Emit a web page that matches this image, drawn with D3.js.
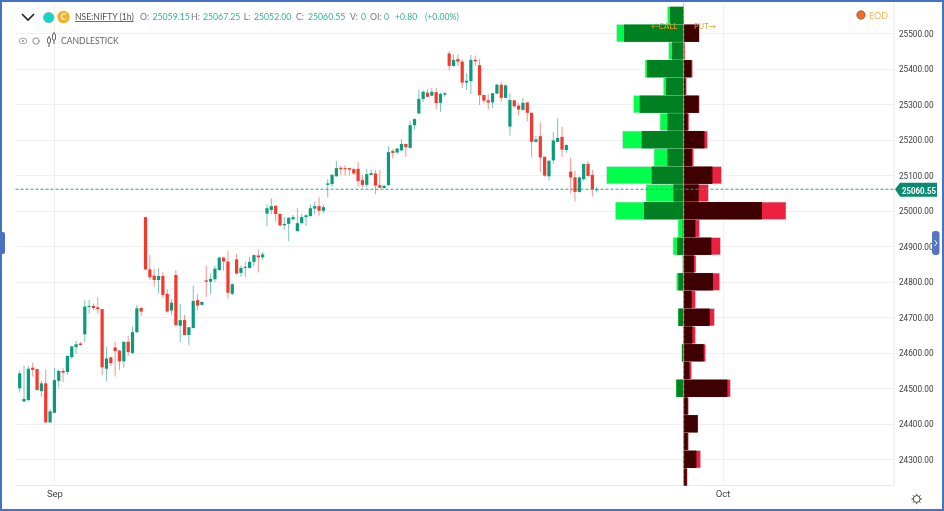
<!DOCTYPE html>
<html><head><meta charset="utf-8">
<script src="https://cdn.jsdelivr.net/npm/d3@7/dist/d3.min.js"></script>
<style>
html,body{margin:0;padding:0;background:#fff;overflow:hidden}
svg{display:block;filter:blur(0.3px)}
</style></head><body>
<div id="chart"></div>
<script>
// Candles [hourly bars], prices
const opens=[24500,24463,24467,24558,24554,24492,24514,24404,24431,24521,24549,24546,24588,24616,24626,24652,24729,24732,24728,24723,24555,24587,24615,24606,24576,24631,24599,24658,24726,24982,24835,24817,24805,24816,24766,24719,24819,24676,24692,24650,24670,24748,24735,24804,24800,24807,24833,24868,24857,24766,24863,24825,24839,24839,24856,24874,24869,24992,25002,25014,24991,24959,24963,24976,24943,24965,24982,24985,25006,25013,25000,25073,25075,25097,25121,25120,25120,25117,25118,25086,25073,25101,25105,25072,25064,25072,25168,25164,25170,25188,25177,25241,25274,25315,25332,25324,25334,25304,25327,25443,25408,25427,25420,25361,25365,25425,25410,25326,25311,25305,25330,25355,25318,25237,25311,25296,25284,25305,25276,25194,25210,25152,25097,25142,25194,25208,25171,25110,25094,25053,25089,25132,25101,25059.15];
const highs=[24550,24564,24563,24572,24555,24521,24552,24442,24558,24552,24556,24593,24620,24634,24630,24748,24749,24739,24756,24724,24617,24589,24631,24608,24632,24648,24674,24735,24728,24984,24875,24836,24838,24827,24779,24751,24833,24737,24706,24673,24789,24765,24745,24845,24824,24845,24871,24871,24886,24796,24878,24846,24857,24870,24877,24891,24884,25018,25035,25015,24993,24983,24982,24988,25007,24991,24990,25018,25026,25038,25016,25089,25104,25140,25126,25128,25121,25121,25138,25101,25118,25115,25115,25115,25073,25182,25174,25177,25202,25189,25253,25260,25341,25340,25342,25346,25346,25333,25334,25450,25441,25441,25426,25387,25439,25437,25427,25326,25328,25331,25357,25362,25356,25331,25311,25303,25317,25305,25276,25211,25249,25152,25141,25221,25260,25236,25187,25149,25112,25096,25132,25140,25115,25067.25];
const lows=[24488,24461,24463,24533,24494,24476,24403,24403,24430,24502,24518,24538,24583,24597,24620,24630,24711,24720,24711,24537,24521,24563,24533,24552,24557,24591,24598,24656,24704,24833,24805,24786,24768,24756,24713,24706,24674,24630,24649,24622,24669,24720,24734,24758,24765,24799,24831,24830,24752,24762,24821,24814,24814,24837,24844,24826,24861,24957,24990,24969,24957,24946,24914,24972,24941,24964,24957,24983,24991,24986,24993,25038,25066,25096,25101,25099,25099,25101,25068,25065,25066,25099,25047,25063,25063,25070,25147,25160,25169,25152,25175,25229,25273,25306,25320,25323,25286,25279,25321,25396,25405,25408,25345,25340,25329,25408,25298,25302,25286,25289,25328,25307,25317,25211,25290,25268,25282,25251,25150,25192,25108,25096,25085,25132,25193,25151,25163,25049,25026,25051,25084,25096,25040,25052];
const closes=[24542,24470,24555,24552,24495,24514,24404,24435,24523,24549,24544,24591,24618,24624,24622,24730,24732,24726,24723,24559,24584,24571,24605,24576,24631,24602,24658,24725,24716,24835,24813,24805,24816,24763,24716,24741,24678,24692,24650,24672,24746,24733,24743,24800,24808,24837,24868,24857,24769,24793,24823,24839,24842,24856,24875,24869,24877,25007,25013,24991,24959,24963,24980,24982,24965,24982,24987,25007,25013,25000,25010,25077,25101,25120,25117,25117,25116,25105,25084,25073,25103,25106,25071,25065,25070,25165,25163,25175,25188,25179,25241,25258,25315,25335,25321,25335,25303,25329,25331,25408,25425,25420,25361,25366,25425,25421,25326,25310,25305,25331,25355,25318,25353,25312,25294,25285,25304,25276,25194,25201,25150,25099,25141,25198,25205,25172,25185,25094,25053,25094,25132,25098,25060,25060.55];
// Option chain profile, by strike (open interest in arbitrary units)
const strikes=[25550,25500,25450,25400,25350,25300,25250,25200,25150,25100,25050,25000,24950,24900,24850,24800,24750,24700,24650,24600,24550,24500,24450,24400,24350,24300,24250];
const callOI=[137,597,117,367,177,440,163,420,163,320,103,397,10,67,3,53,0,53,3,17,3,73,0,3,0,3,0];
const callChange=[163,670,150,387,203,500,237,610,297,770,377,683,57,107,13,73,3,57,5,20,3,77,2,5,2,7,0];
const putOI=[0,153,3,77,17,150,40,207,83,287,150,783,117,277,103,293,80,260,87,200,57,437,40,140,40,127,30];
const putChange=[0,157,13,90,30,157,53,237,100,377,247,1023,157,367,123,360,117,307,117,220,77,467,50,143,50,170,37];
const priceTicks=[25500,25400,25300,25200,25100,25000,24900,24800,24700,24600,24500,24400,24300];
const timeTicks=[{bar:8,label:"Sep"},{bar:162,label:"Oct"}];
const lastPrice=25060.55;
const quote=[["O:","25059.15",140,152.5],["H:","25067.25",191,203],["L:","25052.00",243.7,254],["C:","25060.55",296,308]];
const quoteTail=[["V:",350,"#777"],["0",361,"#2fb597"],["OI:",370,"#777"],["0",384,"#2fb597"],["+0.80",395,"#2fb597"],["(+0.00%)",425,"#2fb597"]];

const W=944,H=511;
const svg=d3.select("#chart").append("svg").attr("width",W).attr("height",H).attr("viewBox",`0 0 ${W} ${H}`).attr("font-family","Lato");
const y=d3.scaleLinear().domain([25500,24300]).range([33.2,459.3]);
const x=d3.scaleLinear().domain([0,133]).range([19.7,596.7]);
const oi=d3.scaleLinear().domain([0,1000]).range([0,100]);
const left=15.5,right=894,bottom=485.5,mid=683.7;
const GREEN="#089b7c",RED="#f5372c";

// grid
const grid=svg.append("g");
grid.selectAll("line.h").data(priceTicks).join("line").attr("x1",left).attr("x2",right)
 .attr("y1",d=>Math.round(y(d))+.5).attr("y2",d=>Math.round(y(d))+.5).attr("stroke","#eff0f4").attr("stroke-width",1);
grid.selectAll("line.v").data(timeTicks).join("line").attr("x1",d=>Math.round(x(d.bar))+.5).attr("x2",d=>Math.round(x(d.bar))+.5)
 .attr("y1",3).attr("y2",bottom).attr("stroke","#eff0f4");
svg.append("line").attr("x1",right).attr("x2",right).attr("y1",3).attr("y2",bottom).attr("stroke","#e6e8ee");
svg.append("line").attr("x1",left).attr("x2",right).attr("y1",bottom).attr("y2",bottom).attr("stroke","#e6e8ee");

// axes text via d3 axes
const yAxis=d3.axisRight(y).tickValues(priceTicks).tickSize(0).tickPadding(0).tickFormat(d3.format(".2f"));
const ya=svg.append("g").attr("transform",`translate(899,0)`).call(yAxis);
ya.select(".domain").remove();
ya.selectAll("text").attr("fill","#3a3a3a").attr("font-size",9.4).style("font-family","Roboto").attr("dy","0.33em")
 .attr("textLength",34.5).attr("lengthAdjust","spacingAndGlyphs");
const xAxis=d3.axisBottom(x).tickValues(timeTicks.map(d=>d.bar)).tickSize(0).tickPadding(0).tickFormat(b=>timeTicks.find(t=>t.bar===b).label);
const xa=svg.append("g").attr("transform",`translate(0,${bottom+4.5})`).call(xAxis);
xa.select(".domain").remove();
xa.selectAll("text").attr("fill","#444").attr("font-size",9.5).style("font-family","Roboto");

// candles
const bars=d3.range(opens.length).map(i=>({i,o:opens[i],h:highs[i],l:lows[i],c:closes[i]}));
const cg=svg.append("g");
const col=d=>d.c>=d.o?GREEN:RED;
cg.selectAll("line").data(bars).join("line")
 .attr("x1",d=>x(d.i)).attr("x2",d=>x(d.i)).attr("y1",d=>y(d.h)).attr("y2",d=>y(d.l))
 .attr("stroke",col).attr("stroke-opacity",.55).attr("stroke-width",1);
cg.selectAll("rect").data(bars).join("rect")
 .attr("x",d=>x(d.i)-1.6).attr("width",3.2)
 .attr("y",d=>y(Math.max(d.o,d.c))).attr("height",d=>Math.max(1,Math.abs(y(d.o)-y(d.c))))
 .attr("fill",col);

// OI profile
const bandH=Math.abs(y(25500)-y(25450));
const rows=strikes.map((s,i)=>({s,c:callOI[i],cc:callChange[i],p:putOI[i],pc:putChange[i]}));
const pg=svg.append("g");
function band(sel,fn,sign,fill,withStroke){
 sel.selectAll(null).data(rows.filter(d=>fn(d)>0)).join("rect")
  .attr("x",d=>sign<0?mid-oi(fn(d)):mid).attr("width",d=>oi(fn(d)))
  .attr("y",d=>Math.max(y(d.s)-bandH/2,0)+.2).attr("height",d=>Math.min(bandH-.4,bottom+1.5-(y(d.s)-bandH/2)))
  .attr("fill",fill).attr("stroke",withStroke?"#d9d9d9":"none").attr("stroke-width",.6);
}
band(pg,d=>d.cc,-1,"#00ff4d",true);
band(pg,d=>d.c,-1,"#008020",false);
band(pg,d=>d.pc,1,"#ee2040",true);
band(pg,d=>d.p,1,"#3e0000",false);
svg.append("line").attr("x1",mid).attr("x2",mid).attr("y1",3).attr("y2",bottom)
 .attr("stroke","#f0a030").attr("stroke-width",.8).attr("stroke-dasharray","3,2");
svg.append("text").attr("x",651).attr("y",29).attr("font-size",7.8).attr("fill","#f0a020").text("←CALL");
svg.append("text").attr("x",694).attr("y",29).attr("font-size",7.6).attr("fill","#f0a020").text("PUT→");

// last price line
const ly=y(lastPrice);
svg.append("line").attr("x1",left).attr("x2",right).attr("y1",ly).attr("y2",ly)
 .attr("stroke","#1fa58b").attr("stroke-dasharray","3,2").attr("stroke-width",1);
svg.append("path").attr("d",`M895,${ly} L900,${ly-6.5} H937 V${ly+7.5} H900 Z`).attr("fill","#0b8a72");
svg.append("text").attr("x",902).attr("y",ly+4.3).attr("font-size",9.6).attr("font-weight",700).attr("fill","#fff").style("font-family","Roboto")
 .attr("textLength",34).attr("lengthAdjust","spacingAndGlyphs").text(d3.format(".2f")(lastPrice));

// header
const FS=8.7;
const hdr=svg.append("g");
hdr.append("path").attr("d","M22,14 L28,20 L34,14").attr("fill","none").attr("stroke","#222").attr("stroke-width",1.6);
hdr.append("circle").attr("cx",48.7).attr("cy",17.5).attr("r",5.3).attr("fill","#10d8c8").attr("stroke","#999").attr("stroke-width",.5);
hdr.append("circle").attr("cx",63.5).attr("cy",17).attr("r",6.2).attr("fill","#f4b02a");
hdr.append("text").attr("x",63.5).attr("y",20).attr("font-size",8.5).attr("font-weight",700).attr("fill","#fff").attr("text-anchor","middle").text("C");
hdr.append("text").attr("x",75).attr("y",20).attr("font-size",8.6).attr("fill","#555").attr("text-decoration","underline").text("NSE:NIFTY (1h)");
quote.forEach(q=>{
 hdr.append("text").attr("x",q[2]).attr("y",20).attr("font-size",FS).attr("fill","#777").text(q[0]);
 hdr.append("text").attr("x",q[3]).attr("y",20).attr("font-size",FS).attr("fill","#2fb597").text(q[1]);
});
quoteTail.forEach(q=>{
 hdr.append("text").attr("x",q[1]).attr("y",20).attr("font-size",FS).attr("fill",q[2]).text(q[0]);
});
// sub header
hdr.append("ellipse").attr("cx",23).attr("cy",41).attr("rx",3.8).attr("ry",2.8).attr("fill","none").attr("stroke","#999").attr("stroke-width",.9);
hdr.append("circle").attr("cx",23).attr("cy",41).attr("r",1.1).attr("fill","#999");
hdr.append("circle").attr("cx",36).attr("cy",41).attr("r",3).attr("fill","none").attr("stroke","#999").attr("stroke-width",1.6).attr("stroke-dasharray","1.3,.6");
[[49,36,47,38,43],[54,32,44,34,40]].forEach(c=>{
 hdr.append("line").attr("x1",c[0]).attr("x2",c[0]).attr("y1",c[1]).attr("y2",c[2]).attr("stroke","#444").attr("stroke-width",.9);
 hdr.append("rect").attr("x",c[0]-1.5).attr("width",3).attr("y",c[3]).attr("height",c[4]-c[3]).attr("rx",1).attr("fill","#fff").attr("stroke","#444").attr("stroke-width",.8);
});
hdr.append("text").attr("x",61).attr("y",44.3).attr("font-size",8.6).attr("fill","#666").text("CANDLESTICK");
// EOD
svg.append("circle").attr("cx",861).attr("cy",15).attr("r",4.2).attr("fill","#f96a1e").attr("stroke","#555").attr("stroke-width",.7);
svg.append("text").attr("x",869).attr("y",18.5).attr("font-size",9).attr("fill","#f7b65a").text("EOD");
// bottom right gear
const gg=svg.append("g").attr("transform","translate(916.7,499)");
gg.append("circle").attr("r",3.4).attr("fill","none").attr("stroke","#444").attr("stroke-width",1);
d3.range(8).forEach(i=>{const a=i*Math.PI/4;gg.append("line").attr("x1",3.4*Math.cos(a)).attr("y1",3.4*Math.sin(a)).attr("x2",5.2*Math.cos(a)).attr("y2",5.2*Math.sin(a)).attr("stroke","#444").attr("stroke-width",1);});
// handles
svg.append("rect").attr("x",0).attr("y",232).attr("width",5).attr("height",22).attr("rx",2).attr("fill","#4f6fbe");
svg.append("rect").attr("x",932).attr("y",231).attr("width",7.5).attr("height",24).attr("rx",3).attr("fill","#5574c4");
svg.append("path").attr("d","M934.5,240 L937,243 L934.5,246").attr("fill","none").attr("stroke","#fff").attr("stroke-width",.9);
// frame
svg.append("rect").attr("x",1).attr("y",1).attr("width",W-2).attr("height",H-2).attr("fill","none").attr("stroke","#4472c4").attr("stroke-width",2);
</script></body></html>
